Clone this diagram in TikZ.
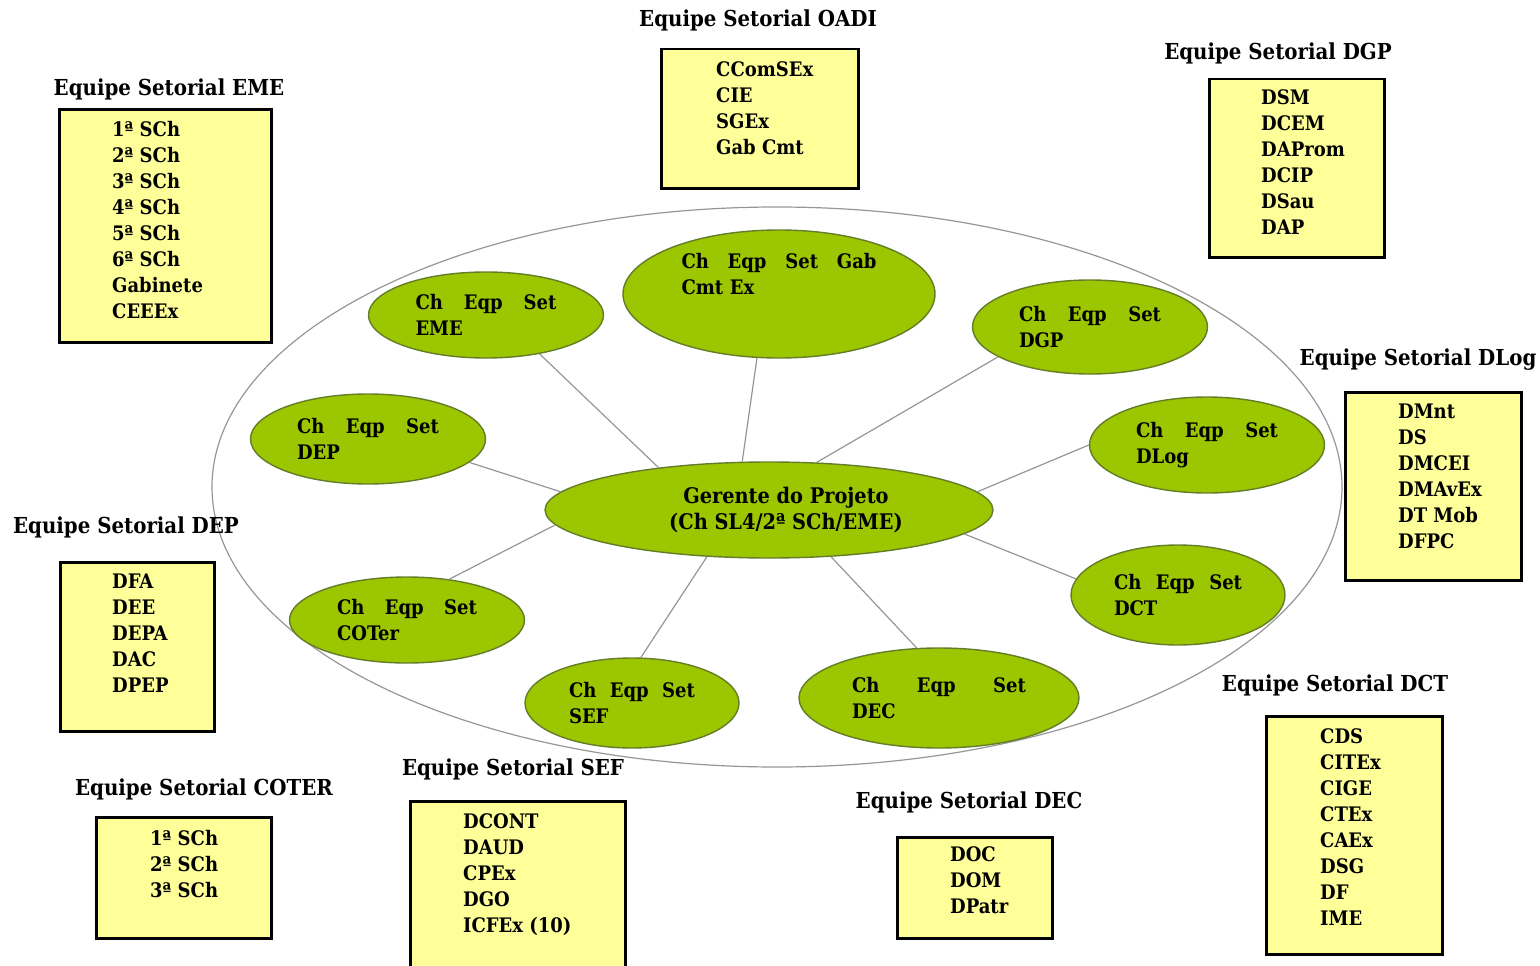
\documentclass[tikz,border=0pt]{standalone}
\usepackage{fontspec}
\setmainfont{DejaVu Serif Condensed}
\usepackage{tikz}
\usetikzlibrary{positioning}
\usetikzlibrary{shapes}

\definecolor{verde}{RGB}{155,198,0}
\definecolor{verdeborda}{RGB}{100,125,40}
\definecolor{amarelo}{RGB}{255,255,153}
\definecolor{cinza}{RGB}{150,150,150}

\begin{document}
\begin{tikzpicture}[x=1pt,y=-1pt]
\tikzset{chefe/.style={ellipse, draw=verdeborda, line width=1.4pt, fill=verde, inner sep=0pt, align=left, font=\fontsize{20}{26}\selectfont\bfseries}}
\tikzset{caixa/.style={rectangle, draw, line width=2.5pt, fill=amarelo, anchor=north west}}
\tikzset{lista/.style={inner sep=0pt, align=left, font=\fontsize{20}{26}\selectfont\bfseries}}
\tikzset{titulo/.style={inner sep=0pt, font=\fontsize{22}{28}\selectfont\bfseries}}
\tikzset{liga/.style={draw=cinza, line width=1.2pt}}
\useasboundingbox (0,0) rectangle (1540,966);

% anel externo
\draw[cinza, line width=1.2pt] (777,487) ellipse [x radius=565, y radius=280];

% chefes de equipe
\node[chefe, align=center, minimum width=448, minimum height=96, font=\fontsize{21.5}{26}\selectfont\bfseries] (ger) at (769,510) {\hspace*{34pt}Gerente do Projeto\\\hspace*{34pt}(Ch SL4/2ª SCh/EME)};
\node[chefe, minimum width=312, minimum height=128, text width=195] (gab) at (779,294) {Ch\hfill Eqp\hfill Set\hfill Gab\\Cmt Ex\\[14pt] \mbox{}};
\node[chefe, minimum width=235, minimum height=86, text width=141] (eme) at (486,315) {Ch\hfill Eqp\hfill Set\\EME};
\node[chefe, minimum width=235, minimum height=94, text width=142] (dgp) at (1090,327) {Ch\hfill Eqp\hfill Set\\DGP};
\node[chefe, minimum width=235, minimum height=90, text width=142] (dep) at (368,439) {Ch\hfill Eqp\hfill Set\\DEP};
\node[chefe, minimum width=235, minimum height=96, text width=142] (dlog) at (1207,445) {Ch\hfill Eqp\hfill Set\\DLog};
\node[chefe, minimum width=235, minimum height=86, text width=140] (coter) at (407,620) {Ch\hfill Eqp\hfill Set\\COTer};
\node[chefe, minimum width=214, minimum height=100, text width=128] (dct) at (1178,595) {Ch\hfill Eqp\hfill Set\\DCT};
\node[chefe, minimum width=214, minimum height=90, text width=126] (sef) at (632,703) {Ch\hfill Eqp\hfill Set\\SEF};
\node[chefe, minimum width=280, minimum height=100, text width=174] (dec) at (939,698) {Ch\hfill Eqp\hfill Set\\DEC};

\draw[liga] (eme.324.6) -- (ger.159.1);
\draw[liga] (gab.251) -- (ger.119.1);
\draw[liga] (dgp.198) -- (ger.45.6);
\draw[liga] (dep.347) -- (ger.175.9);
\draw[liga] (dlog.180) -- (ger.5.4);
\draw[liga] (coter.44.3) -- (ger.184.6);
\draw[liga] (dct.171) -- (ger.353.8);
\draw[liga] (sef.79.7) -- (ger.217);
\draw[liga] (dec.114.3) -- (ger.323);

% equipes setoriais
\node[caixa, minimum width=212, minimum height=233] (cxeme) at (58,108) {};
\node[lista, below right=13pt and 54pt of cxeme.north west] (lseme) {1ª SCh\\2ª SCh\\3ª SCh\\4ª SCh\\5ª SCh\\6ª SCh\\Gabinete\\CEEEx};
\node[titulo] (teme) at (169,89) {Equipe Setorial EME};

\node[caixa, minimum width=197, minimum height=139] (cxoadi) at (660,48) {};
\node[lista, below right=13pt and 56pt of cxoadi.north west] (lsoadi) {CComSEx\\CIE\\SGEx\\Gab Cmt};
\node[titulo] (toadi) at (758,20) {Equipe Setorial OADI};

\node[caixa, minimum width=175, minimum height=178] (cxdgp) at (1208,78) {};
\node[lista, below right=11pt and 53pt of cxdgp.north west] (lsdgp) {DSM\\DCEM\\DAProm\\DCIP\\DSau\\DAP};
\node[titulo] (tdgp) at (1278,53) {Equipe Setorial DGP};

\node[caixa, minimum width=176, minimum height=188] (cxdlog) at (1344,391) {};
\node[lista, below right=13pt and 54pt of cxdlog.north west] (lsdlog) {DMnt\\DS\\DMCEI\\DMAvEx\\DT Mob\\DFPC};
\node[titulo] (tdlog) at (1418,360) {Equipe Setorial DLog};

\node[caixa, minimum width=154, minimum height=169] (cxdep) at (59,561) {};
\node[lista, below right=13pt and 53pt of cxdep.north west] (lsdep) {DFA\\DEE\\DEPA\\DAC\\DPEP};
\node[titulo] (tdep) at (126,527) {Equipe Setorial DEP};

\node[caixa, minimum width=175, minimum height=121] (cxcoter) at (95,816) {};
\node[lista, below right=14pt and 55pt of cxcoter.north west] (lscoter) {1ª SCh\\2ª SCh\\3ª SCh};
\node[titulo] (tcoter) at (204,789) {Equipe Setorial COTER};

\node[caixa, minimum width=215, minimum height=180] (cxsef) at (409,800) {};
\node[lista, below right=13pt and 54pt of cxsef.north west] (lssef) {DCONT\\DAUD\\CPEx\\DGO\\ICFEx (10)};
\node[titulo] (tsef) at (513,769) {Equipe Setorial SEF};

\node[caixa, minimum width=155, minimum height=101] (cxdec) at (896,836) {};
\node[lista, below right=10pt and 54pt of cxdec.north west] (lsdec) {DOC\\DOM\\DPatr};
\node[titulo] (tdec) at (969,802) {Equipe Setorial DEC};

\node[caixa, minimum width=176, minimum height=238] (cxdct) at (1265,715) {};
\node[lista, below right=13pt and 55pt of cxdct.north west] (lsdct) {CDS\\CITEx\\CIGE\\CTEx\\CAEx\\DSG\\DF\\IME};
\node[titulo] (tdct) at (1335,685) {Equipe Setorial DCT};
\end{tikzpicture}
\end{document}
